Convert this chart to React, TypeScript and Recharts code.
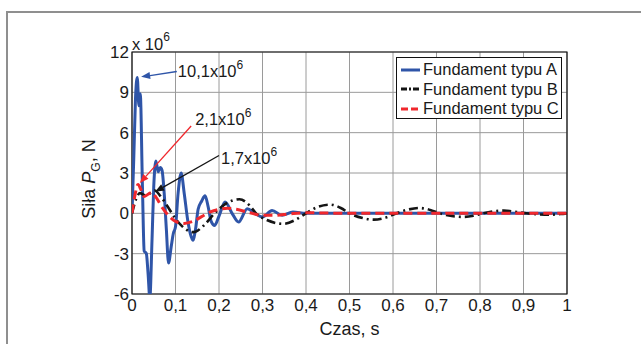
import React from 'react';
import { LineChart, Line, XAxis, YAxis, CartesianGrid, ReferenceArea, ReferenceLine } from 'recharts';

const FONT = "'Liberation Sans', Arial, Helvetica, sans-serif";

// time axis ticks (s) and force ticks (x10^6 N)
const X_TICKS = [0, 0.1, 0.2, 0.3, 0.4, 0.5, 0.6, 0.7, 0.8, 0.9, 1];
const Y_TICKS = [-6, -3, 0, 3, 6, 9, 12];

const SERIES_NAMES = ['Fundament typu A', 'Fundament typu B', 'Fundament typu C'];

// Fundament typu A
const T_A = [0, 0.004, 0.008, 0.012, 0.016, 0.019, 0.024, 0.028, 0.033, 0.037, 0.041, 0.046, 0.05, 0.055, 0.06, 0.065, 0.069, 0.074, 0.079, 0.084, 0.09, 0.095, 0.1, 0.106, 0.113, 0.12, 0.128, 0.134, 0.14, 0.146, 0.152, 0.16, 0.168, 0.175, 0.182, 0.19, 0.2, 0.214, 0.23, 0.245, 0.265, 0.282, 0.3, 0.322, 0.345, 0.37, 0.4, 0.5, 0.7, 1];
const V_A = [0, 4, 8.5, 10.1, 8.0, 8.9, 2.0, -2.8, -3.0, -4.5, -6.3, -2.0, 2.0, 3.9, 3.1, 3.4, 3.2, 1.5, -1.2, -3.7, -2.5, -1.5, -1.0, 1.5, 3.0, 1.5, -0.5, -1.5, -2.0, -1.2, 0.3, 0.9, 1.3, 0.5, -0.6, -0.9, -0.2, 0.84, 0.0, -0.65, 0.35, 0.0, -0.27, 0.22, -0.15, 0.1, 0, 0, 0, 0];

// Fundament typu B
const T_B = [0, 0.01, 0.018, 0.03, 0.045, 0.052, 0.065, 0.08, 0.1, 0.12, 0.142, 0.165, 0.19, 0.215, 0.247, 0.27, 0.285, 0.31, 0.348, 0.375, 0.4, 0.425, 0.455, 0.48, 0.5, 0.53, 0.556, 0.585, 0.608, 0.635, 0.66, 0.69, 0.708, 0.735, 0.761, 0.785, 0.807, 0.83, 0.855, 0.885, 0.907, 0.935, 0.961, 0.985, 1];
const V_B = [0, 1.1, 1.5, 1.35, 1.55, 1.7, 1.3, 0.6, -0.4, -1.1, -1.4, -0.9, 0, 0.7, 1.05, 0.6, 0, -0.5, -0.78, -0.5, 0, 0.45, 0.65, 0.4, 0, -0.35, -0.47, -0.3, 0, 0.28, 0.4, 0.2, 0, -0.2, -0.27, -0.18, 0, 0.14, 0.2, 0.1, 0, -0.08, -0.11, -0.05, 0];

// Fundament typu C
const T_C = [0, 0.006, 0.014, 0.02, 0.028, 0.036, 0.045, 0.055, 0.07, 0.085, 0.1, 0.12, 0.14, 0.16, 0.18, 0.2, 0.22, 0.24, 0.27, 0.3, 0.33, 0.36, 0.4, 0.45, 0.5, 0.75, 1];
const V_C = [0, 1.2, 2.15, 1.8, 1.25, 1.4, 1.55, 1.2, 0.4, -0.2, -0.6, -0.75, -0.6, -0.25, 0.1, 0.3, 0.37, 0.3, 0.05, -0.15, -0.15, -0.05, 0.05, 0.02, 0, 0, 0];

// peak annotations: label, arrow tail and tip in data units (s, x10^6 N)
const NOTE_LABELS = ['10,1x10', '2,1x10', '1,7x10'];
const NOTE_TAIL = [[0.103, 10.55], [0.136, 6.5], [0.2, 4.3]];
const NOTE_TIP = [[0.021, 10.15], [0.018, 2.25], [0.053, 1.6]];

const COLORS = ['#2f55a8', '#151515', '#f0282d'];
const DASHES = [undefined, '9 4 2 4', '9 5'];
const WIDTHS = [3, 2.6, 3];
const ARROW_COLORS = ['#2f55a8', '#f0282d', '#151515'];
const NOTE_TEXT_DY = [6, -1, 8];
const NOTE_TEXT_DX = [1, 4, 2];

const toRows = (t: number[], v: number[]) => t.map((x, i) => ({ t: x, v: v[i] }));
const seriesData = [toRows(T_A, V_A), toRows(T_B, V_B), toRows(T_C, V_C)];

const fmt = (n: number) => String(n).replace('.', ',');

const arrowShape = (idx: number) => (props: any) => {
  const { x1, y1, x2, y2 } = props;
  const c = ARROW_COLORS[idx];
  const ang = Math.atan2(y2 - y1, x2 - x1);
  const L = 9, W = 3.5;
  const bx = x2 - L * Math.cos(ang), by = y2 - L * Math.sin(ang);
  const px = -Math.sin(ang) * W, py = Math.cos(ang) * W;
  return (
    <g>
      <line x1={x1} y1={y1} x2={bx} y2={by} stroke={c} strokeWidth={1.3} />
      <polygon points={`${x2},${y2} ${bx + px},${by + py} ${bx - px},${by - py}`} fill={c} />
      <text x={x1 + NOTE_TEXT_DX[idx]} y={y1 + NOTE_TEXT_DY[idx]} fontSize={16.5} fill="#1a1a1a" fontFamily={FONT}>
        {NOTE_LABELS[idx]}
        <tspan fontSize={12} dy={-8}>6</tspan>
      </text>
    </g>
  );
};

const yLabel = (props: any) => {
  const { x, y, width, height } = props.viewBox;
  const cx = x + 13;
  const cy = y + height / 2 + 6;
  return (
    <g>
      <text transform={`rotate(-90 ${cx} ${cy})`} x={cx} y={cy} textAnchor="middle" fontSize={18} fill="#1a1a1a" fontFamily={FONT}>
        Siła <tspan fontStyle="italic">P</tspan>
        <tspan fontSize={12} dy={5}>G</tspan>
        <tspan dy={-5}>, N</tspan>
      </text>
      <text x={x + width} y={y - 2} fontSize={16.5} fill="#1a1a1a" fontFamily={FONT}>
        x 10<tspan fontSize={12} dy={-9}>6</tspan>
      </text>
    </g>
  );
};

const xLabel = (props: any) => {
  const { x, y, width } = props.viewBox;
  return (
    <text x={x + width / 2} y={y + 41} textAnchor="middle" fontSize={18} fill="#1a1a1a" fontFamily={FONT}>
      Czas, s
    </text>
  );
};

const LegendBox = () => (
  <div
    style={{
      position: 'absolute', left: 396, top: 57, width: 166, height: 62,
      border: '1.5px solid #111', background: '#fff', fontFamily: FONT, fontSize: 16.5,
      color: '#1a1a1a', padding: '2px 0 0 4px', boxSizing: 'border-box',
    }}
  >
    {SERIES_NAMES.map((name, i) => (
      <div key={name} style={{ display: 'flex', alignItems: 'center', height: 19.5 }}>
        <svg width={20} height={8} style={{ marginRight: 2 }}>
          <line x1={0} y1={4} x2={19} y2={4} stroke={COLORS[i]} strokeWidth={3}
            strokeDasharray={i === 1 ? '6 2 2 2' : i === 2 ? '7 3' : undefined} />
        </svg>
        <span style={{ whiteSpace: 'nowrap' }}>{name}</span>
      </div>
    ))}
  </div>
);

export default function App() {
  return (
    <div style={{ position: 'absolute', left: 0, top: 0, width: 641, height: 344, background: '#fff', overflow: 'hidden' }}>
      <div style={{ position: 'absolute', left: 6, top: 11, right: -4, bottom: -4, borderTop: '2px solid #8f8f8f', borderLeft: '2px solid #8f8f8f' }} />
      <LineChart width={641} height={344} margin={{ top: 52, right: 74, bottom: 20, left: 82 }} style={{ position: 'absolute', left: 0, top: 0 }}>
        <CartesianGrid stroke="#9a9a9a" strokeWidth={1} horizontalValues={Y_TICKS} verticalValues={X_TICKS} />
        <XAxis
          type="number" dataKey="t" domain={[0, 1]} ticks={X_TICKS} allowDataOverflow
          tickFormatter={fmt} tickLine={false} axisLine={false} tickSize={0} tickMargin={5} height={30}
          tick={{ fontSize: 17, fill: '#1a1a1a', fontFamily: FONT }} interval={0}
          label={xLabel}
        />
        <YAxis
          type="number" dataKey="v" domain={[-6, 12]} ticks={Y_TICKS} allowDataOverflow
          tickLine={false} axisLine={false} tickSize={0} tickMargin={3} width={50}
          tick={{ fontSize: 17, fill: '#1a1a1a', fontFamily: FONT }} interval={0}
          label={yLabel}
        />
        {seriesData.map((d, i) => (
          <Line
            key={SERIES_NAMES[i]} data={d} dataKey="v" name={SERIES_NAMES[i]} type="monotone"
            stroke={COLORS[i]} strokeWidth={WIDTHS[i]} strokeDasharray={DASHES[i]}
            dot={false} activeDot={false} isAnimationActive={false}
          />
        ))}
        <ReferenceArea x1={0} x2={1} y1={-6} y2={12} fill="none" stroke="#111" strokeWidth={1.2} fillOpacity={0} />
        {NOTE_LABELS.map((lab, i) => (
          <ReferenceLine
            key={lab}
            segment={[{ x: NOTE_TAIL[i][0], y: NOTE_TAIL[i][1] }, { x: NOTE_TIP[i][0], y: NOTE_TIP[i][1] }]}
            shape={arrowShape(i)}
          />
        ))}
      </LineChart>
      <LegendBox />
    </div>
  );
}
